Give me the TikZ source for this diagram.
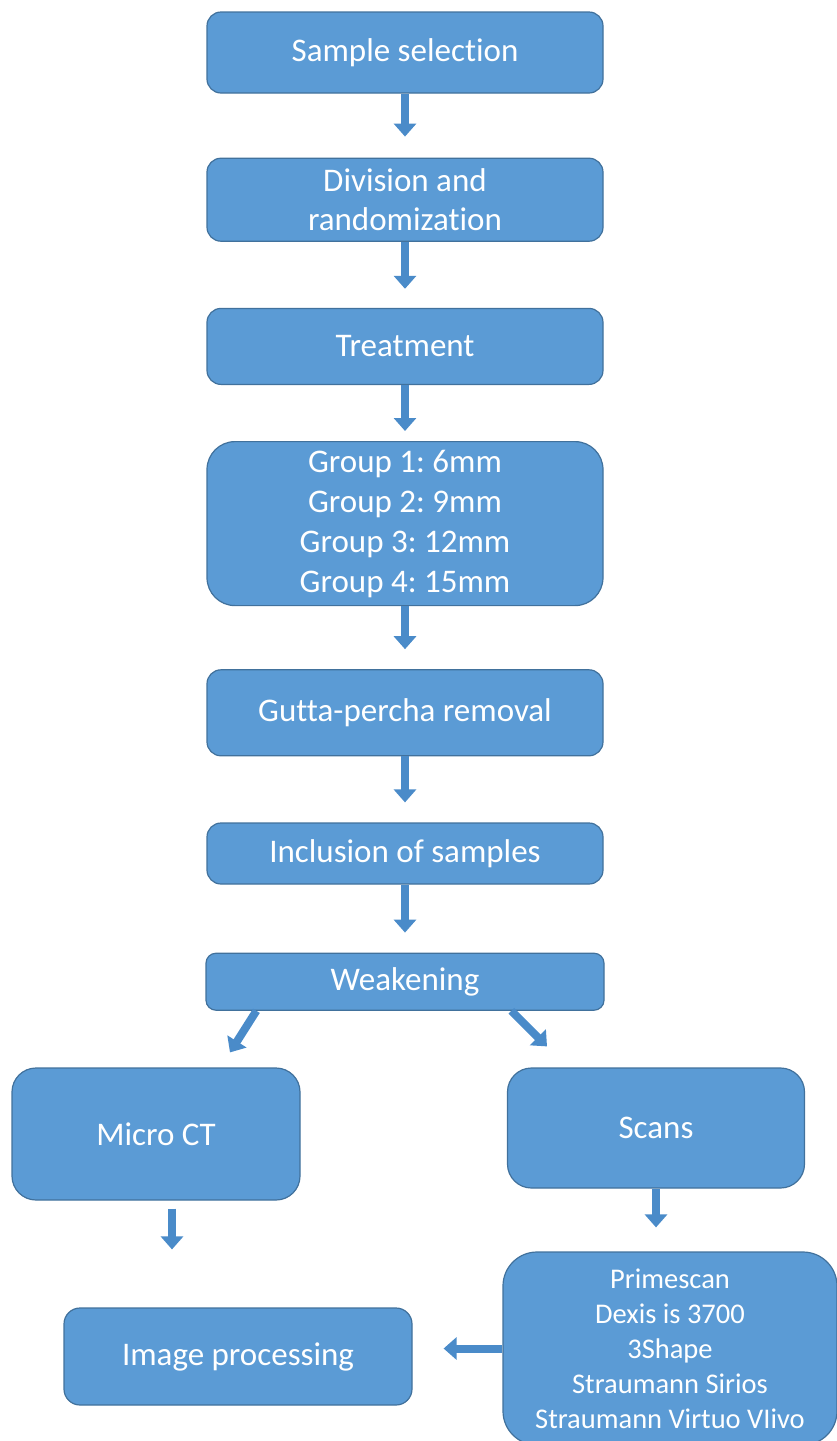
\documentclass[tikz,border=0pt]{standalone}
\usepackage{fontspec}
\setmainfont{Carlito}[Ligatures=NoCommon]
\usepackage{xcolor}
\usepackage{tikz}
\usetikzlibrary{positioning,arrows.meta}
\frenchspacing

\definecolor{boxblue}{HTML}{5B9BD5}
\definecolor{edgeblue}{HTML}{41719C}
\definecolor{tipblue}{HTML}{4A8BC9}

\begin{document}
\begin{tikzpicture}[x=1pt, y=1pt, node distance=64pt, semithick,
  stepbox/.style={draw=edgeblue, line width=1.2pt, fill=boxblue, rounded corners=14pt, text=white, align=center, minimum width=396pt, font=\fontsize{33pt}{39pt}\selectfont},
  blockarrow/.style={draw=tipblue, line width=8pt, -{Triangle[length=13pt,width=22pt]}}]

\useasboundingbox (0,0) rectangle (837,-1441);

\node [stepbox, minimum height=81pt] (s1) at (405,-52.5) {Sample selection};
\node [stepbox, minimum height=83pt] (s2) [below=64pt of s1] {Division and\\randomization};
\node [stepbox, minimum height=76pt] (s3) [below=66pt of s2] {Treatment};
\node [stepbox, minimum height=164pt, rounded corners=28pt, font=\fontsize{33pt}{40pt}\selectfont] (s4) [below=56pt of s3] {Group 1: 6mm\\Group 2: 9mm\\Group 3: 12mm\\Group 4: 15mm};
\node [stepbox, minimum height=86pt] (s5) [below=63pt of s4] {Gutta-percha removal};
\node [stepbox, minimum height=61pt] (s6) [below=66pt of s5] {Inclusion of samples};
\node [stepbox, minimum height=57pt, minimum width=398pt, rounded corners=10pt] (s7) [below=68pt of s6] {Weakening};

\node [stepbox, minimum width=288pt, minimum height=132pt, rounded corners=24pt] (mc) at (156,-1134) {Micro CT};
\node [stepbox, minimum width=297pt, minimum height=120pt, rounded corners=24pt] (sc) at (656,-1128) {Scans};
\node [stepbox, minimum width=348pt, minimum height=97pt, rounded corners=16pt] (ip) at (238,-1356.5) {Image processing};
\node [stepbox, minimum width=334pt, minimum height=193pt, rounded corners=34pt, font=\fontsize{28.5pt}{35pt}\selectfont] (sl) at (670,-1348.5) {Primescan\\Dexis is 3700\\3Shape\\Straumann Sirios\\Straumann Virtuo VIivo};

% free ends of the slanted and offset arrows
\coordinate (wl) at ([xshift=51pt]s7.south west);
\coordinate (wltip) at ([xshift=74pt,yshift=15pt]mc.north);
\coordinate (wr) at ([xshift=306pt]s7.south west);
\coordinate (wrtip) at ([xshift=-109pt,yshift=21pt]sc.north);
\coordinate (mcout) at ([xshift=16pt,yshift=-8pt]mc.south);
\coordinate (mctip) at ([xshift=-66pt,yshift=58pt]ip.north);

\path
(s1) edge [blockarrow, shorten >=21pt] (s2)
(s2) edge [blockarrow, shorten >=19pt] (s3)
(s3) edge [blockarrow, shorten >=10pt] (s4)
(s4) edge [blockarrow, shorten >=20pt] (s5)
(s5) edge [blockarrow, shorten >=20pt] (s6)
(s6) edge [blockarrow, shorten >=20pt] (s7)
(wl) edge [blockarrow] (wltip)
(wr) edge [blockarrow] (wrtip)
(mcout) edge [blockarrow] (mctip)
(sc) edge [blockarrow, shorten >=24pt] (sc |- sl.north)
(sl.west) edge [blockarrow, shorten >=31pt] (sl.west -| ip.east);
\end{tikzpicture}
\end{document}
